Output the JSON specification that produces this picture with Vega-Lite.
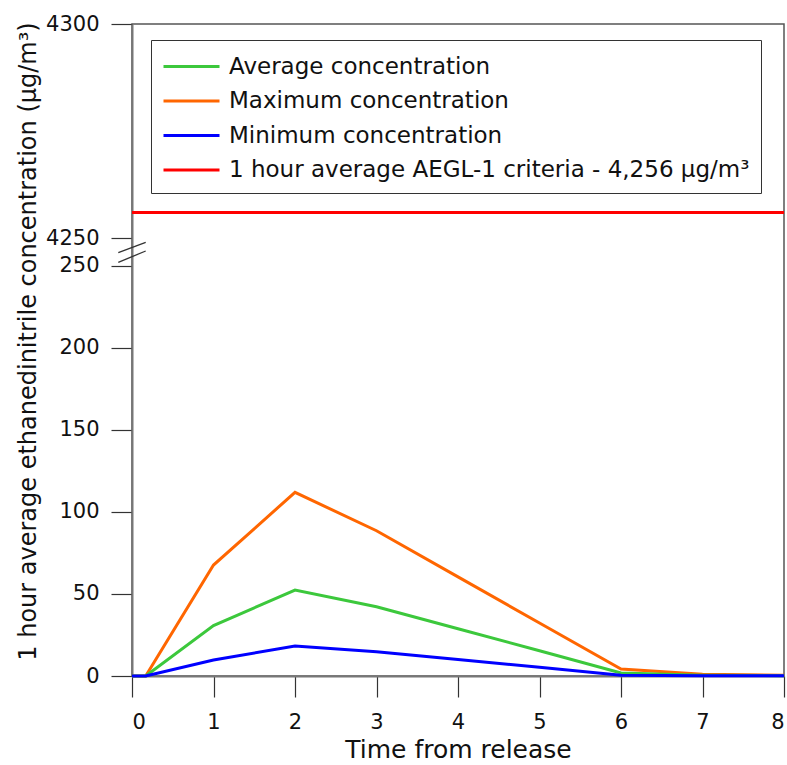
{
  "$schema": "https://vega.github.io/schema/vega-lite/v6.json",
  "width": 652,
  "height": 652,
  "autosize": {"type": "none"},
  "padding": {"left": 132, "top": 24, "right": 3, "bottom": 89},
  "background": "white",
  "config": {
    "font": "DejaVu Sans",
    "view": {"stroke": "#555555", "strokeWidth": 1.5},
    "axis": {
      "grid": false,
      "domainColor": "#777777",
      "domainWidth": 2,
      "tickColor": "#333333",
      "tickWidth": 1.2,
      "tickSize": 21,
      "labelFontSize": 21,
      "labelColor": "#111111",
      "titleFontWeight": "normal",
      "titleColor": "#111111"
    }
  },
  "layer": [
    {
      "data": {
        "values": [
          {"series": "Maximum concentration", "time": 0, "conc": 0},
          {"series": "Maximum concentration", "time": 0.168, "conc": 0},
          {"series": "Maximum concentration", "time": 1, "conc": 67.6},
          {"series": "Maximum concentration", "time": 2, "conc": 111.9},
          {"series": "Maximum concentration", "time": 3, "conc": 88.5},
          {"series": "Maximum concentration", "time": 4, "conc": 60.4},
          {"series": "Maximum concentration", "time": 5, "conc": 32.3},
          {"series": "Maximum concentration", "time": 6, "conc": 4.3},
          {"series": "Maximum concentration", "time": 7, "conc": 1.0},
          {"series": "Maximum concentration", "time": 8, "conc": 0.4},
          {"series": "Average concentration", "time": 0, "conc": 0},
          {"series": "Average concentration", "time": 0.168, "conc": 0},
          {"series": "Average concentration", "time": 1, "conc": 30.7},
          {"series": "Average concentration", "time": 2, "conc": 52.4},
          {"series": "Average concentration", "time": 3, "conc": 42.2},
          {"series": "Average concentration", "time": 4, "conc": 28.8},
          {"series": "Average concentration", "time": 5, "conc": 15.4},
          {"series": "Average concentration", "time": 6, "conc": 1.8},
          {"series": "Average concentration", "time": 7, "conc": 0.5},
          {"series": "Average concentration", "time": 8, "conc": 0.2},
          {"series": "Minimum concentration", "time": 0, "conc": 0},
          {"series": "Minimum concentration", "time": 0.168, "conc": 0},
          {"series": "Minimum concentration", "time": 1, "conc": 9.75},
          {"series": "Minimum concentration", "time": 2, "conc": 18.3},
          {"series": "Minimum concentration", "time": 3, "conc": 14.8},
          {"series": "Minimum concentration", "time": 4, "conc": 10.0},
          {"series": "Minimum concentration", "time": 5, "conc": 5.3},
          {"series": "Minimum concentration", "time": 6, "conc": 0.4},
          {"series": "Minimum concentration", "time": 7, "conc": 0.2},
          {"series": "Minimum concentration", "time": 8, "conc": 0.1}
        ]
      },
      "mark": {"type": "line", "strokeWidth": 3},
      "encoding": {
        "x": {
          "field": "time",
          "type": "quantitative",
          "scale": {"domain": [0, 8], "nice": false},
          "axis": {
            "values": [0, 1, 2, 3, 4, 5, 6, 7, 8],
            "format": "d",
            "title": "Time from release",
            "titleFontSize": 25,
            "labelPadding": 14,
            "titlePadding": 5
          }
        },
        "y": {
          "field": "conc",
          "type": "quantitative",
          "scale": {"domain": [0, 250, 4250, 4300], "range": [652, 241.7, 214.3, 0], "nice": false, "zero": false},
          "axis": {
            "values": [0, 50, 100, 150, 200, 250, 4250, 4300],
            "format": "d",
            "title": "1 hour average ethanedinitrile concentration (µg/m³)",
            "titleFontSize": 24,
            "titleY": 317,
            "labelPadding": 12,
            "titlePadding": 5
          }
        },
        "color": {
          "field": "series",
          "type": "nominal",
          "scale": {
            "domain": ["Average concentration", "Maximum concentration", "Minimum concentration", "1 hour average AEGL-1 criteria - 4,256 µg/m³"],
            "range": ["#3cc83c", "#ff6600", "#0000ff", "#ff0000"]
          },
          "legend": {
            "title": null,
            "orient": "none",
            "legendX": 19,
            "legendY": 16,
            "strokeColor": "#333333",
            "fillColor": "white",
            "padding": 11,
            "labelFontSize": 23,
            "labelColor": "#111111",
            "labelLimit": 700,
            "labelOffset": 36,
            "symbolType": "M-1,0H3",
            "symbolStrokeWidth": 3,
            "symbolSize": 784,
            "rowPadding": 6.5
          }
        }
      }
    },
    {
      "data": {"values": [{"series": "1 hour average AEGL-1 criteria - 4,256 µg/m³", "conc": 4256}]},
      "mark": {"type": "rule", "strokeWidth": 3},
      "encoding": {
        "y": {"field": "conc", "type": "quantitative"},
        "color": {"field": "series", "type": "nominal"}
      }
    },
    {
      "data": {
        "values": [
          {"bx0": -0.168, "bx1": 0.168, "by0": 2148, "by1": 3666},
          {"bx0": -0.168, "bx1": 0.168, "by0": 746, "by1": 2396}
        ]
      },
      "mark": {"type": "rule", "color": "#333333", "strokeWidth": 1.3},
      "encoding": {
        "x": {"field": "bx0", "type": "quantitative"},
        "x2": {"field": "bx1"},
        "y": {"field": "by0", "type": "quantitative"},
        "y2": {"field": "by1"}
      }
    }
  ]
}
